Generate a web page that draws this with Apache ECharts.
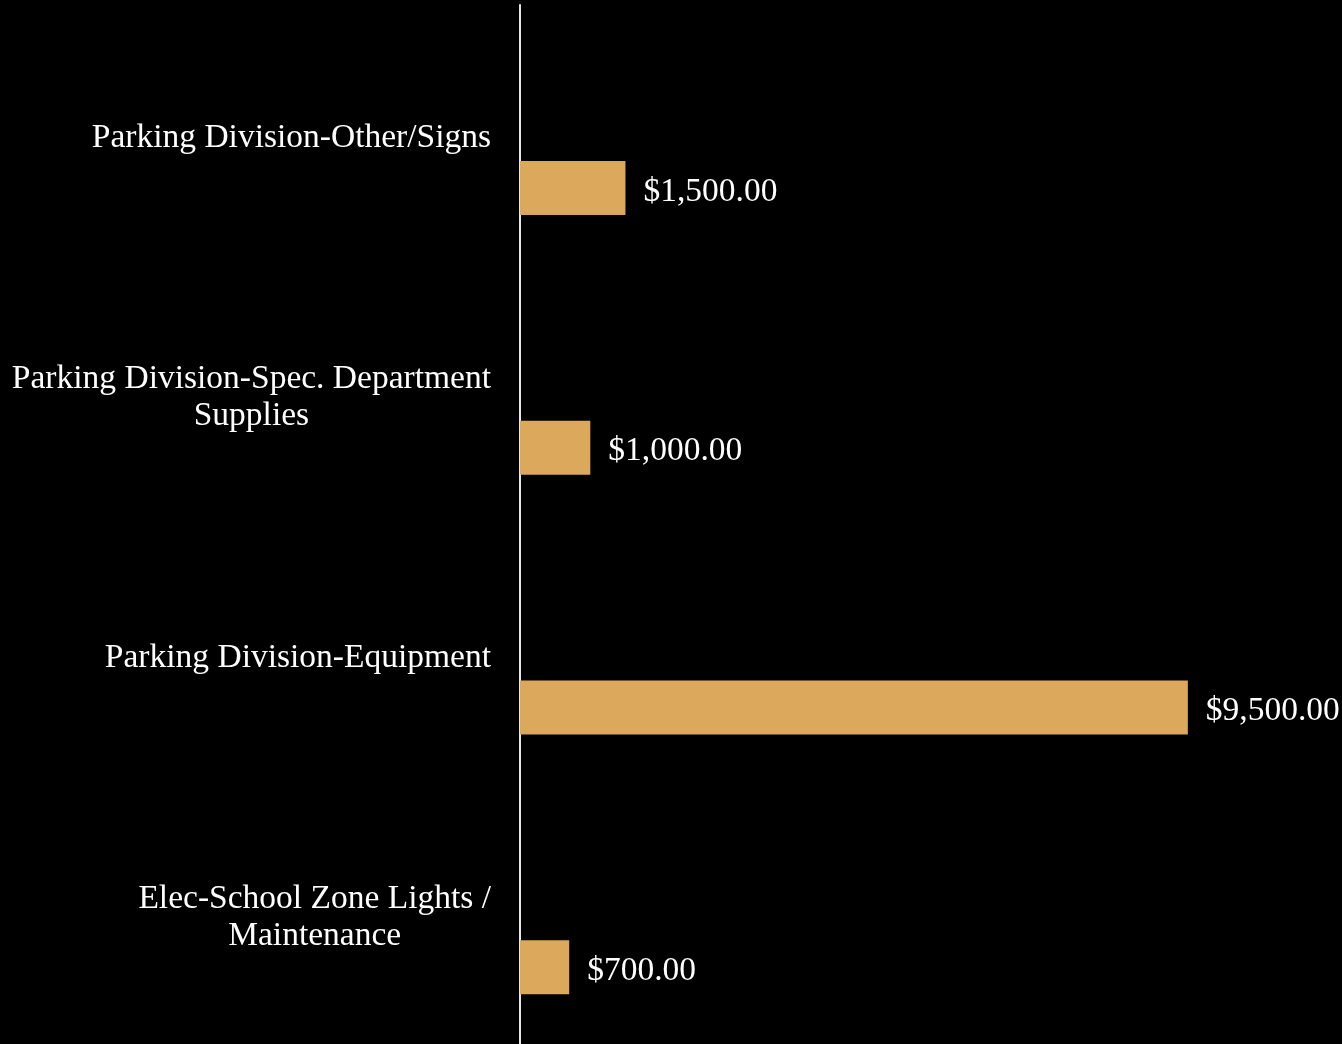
<!DOCTYPE html>
<html>
<head>
<meta charset="utf-8">
<style>
html,body{margin:0;padding:0;background:#000;}
#chart{width:1342px;height:1044px;}
</style>
<script src="https://cdn.jsdelivr.net/npm/echarts@6/dist/echarts.min.js"></script>
</head>
<body>
<div id="chart"></div>
<script>
var categories = [
  "Parking Division-Other/Signs",
  "Parking Division-Spec. Department\nSupplies",
  "Parking Division-Equipment",
  "Elec-School Zone Lights /\nMaintenance"
];
var amounts = [1500, 1000, 9500, 700];
var blankValues = [null, null, null, null];

var FONT = "'Liberation Serif', 'DejaVu Serif', serif";
var chart = echarts.init(document.getElementById('chart'), null, {renderer: 'canvas'});
chart.setOption({
  backgroundColor: '#000000',
  animation: false,
  grid: {left: 520, right: 119, top: 5, bottom: 0, containLabel: false},
  xAxis: {
    type: 'value', min: 0, max: 10000, show: false,
    splitLine: {show: false}
  },
  yAxis: {
    type: 'category',
    data: categories,
    inverse: true,
    axisLine: {show: true, lineStyle: {color: '#e6e6e6', width: 2}},
    axisTick: {show: false},
    splitLine: {show: false},
    axisLabel: {
      margin: 29,
      color: '#ffffff',
      fontFamily: FONT,
      fontSize: 33.5,
      lineHeight: 37,
      padding: [7, 0, 0, 0],
      formatter: function (v) {
        return v.split('\n').map(function (l) { return '{c|' + l + '}'; }).join('\n');
      },
      rich: {c: {align: 'center', color: '#ffffff', fontFamily: FONT, fontSize: 33.5, lineHeight: 37}}
    }
  },
  series: [
    {type: 'bar', name: 'blank', data: blankValues, barWidth: 54, barGap: '96.3%'},
    {
      type: 'bar', name: 'Amount', data: amounts, barWidth: 54, barGap: '96.3%',
      itemStyle: {color: '#dca85c'},
      label: {
        show: true, position: 'right', distance: 18, offset: [0, 4],
        color: '#ffffff', fontFamily: FONT, fontSize: 33.5,
        formatter: function (p) {
          return '$' + p.value.toLocaleString('en-US', {minimumFractionDigits: 2, maximumFractionDigits: 2});
        }
      }
    }
  ]
});
</script>
</body>
</html>
